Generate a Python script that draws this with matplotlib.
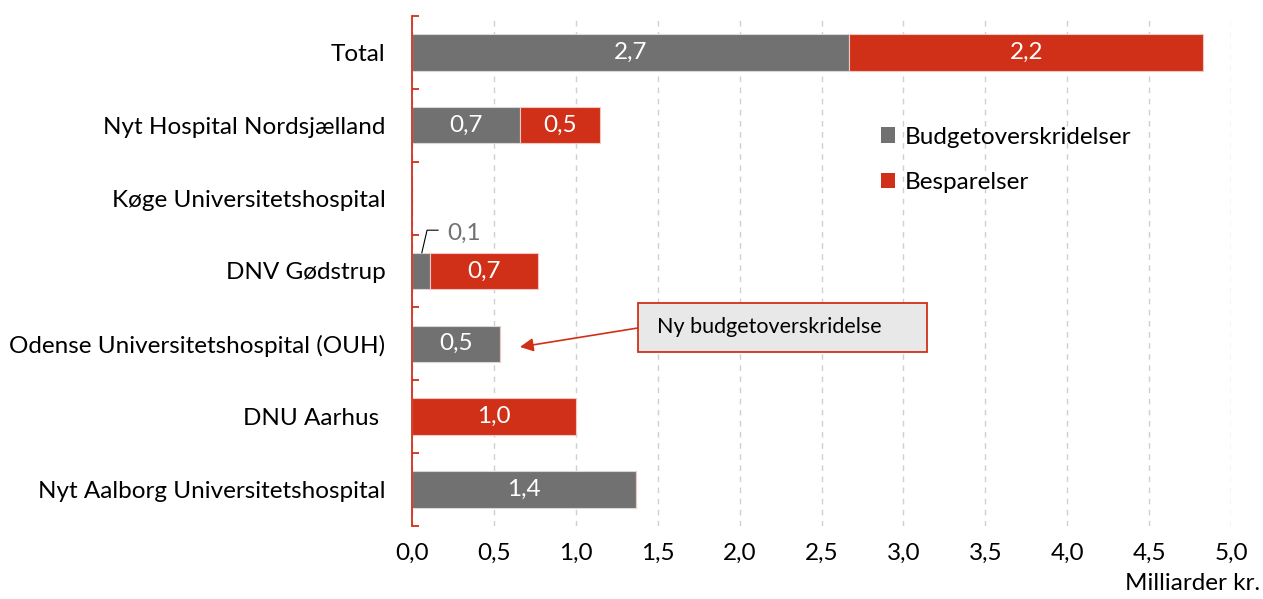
import matplotlib.pyplot as plt
from matplotlib.patches import Patch, Rectangle
import numpy as np

plt.rcParams['font.family'] = ['Lato', 'DejaVu Sans']

# data
categories = ["Total", "Nyt Hospital Nordsjælland", "Køge Universitetshospital",
              "DNV Gødstrup", "Odense Universitetshospital (OUH)", "DNU Aarhus ",
              "Nyt Aalborg Universitetshospital"]
overruns = [2.67, 0.66, 0.0, 0.11, 0.54, 0.0, 1.37]
savings = [2.16, 0.49, 0.0, 0.66, 0.0, 1.0, 0.0]
xticks = [0, 0.5, 1.0, 1.5, 2.0, 2.5, 3.0, 3.5, 4.0, 4.5, 5.0]

gray = "#717171"
red = "#D13018"
fs = 17.5

def fmt(v):
    return f"{v:.1f}".replace(".", ",")

fig = plt.figure(figsize=(12.63, 5.99), dpi=100)
ax = fig.add_axes([0.3262, 0.1219, 0.6485, 0.8514])

y = np.arange(len(categories))
ax.barh(y, overruns, height=0.5, color=gray, edgecolor="#d8d8d8", linewidth=0.8, zorder=3)
ax.barh(y, savings, left=overruns, height=0.5, color=red, edgecolor="#f0c8c0", linewidth=0.8, zorder=3)

# labels inside bars
for i in range(len(categories)):
    if overruns[i] > 0.3:
        ax.text(overruns[i] / 2, y[i], fmt(overruns[i]), color="white", ha="center", va="center",
                fontsize=fs, zorder=4)
    if savings[i] > 0:
        ax.text(overruns[i] + savings[i] / 2, y[i], fmt(savings[i]), color="white", ha="center",
                va="center", fontsize=fs, zorder=4)

# small label for DNV Gødstrup
i = 3
ax.plot([0.06, 0.092, 0.159], [y[i] - 0.25, y[i] - 0.56, y[i] - 0.56], color="black", lw=0.8, zorder=4)
ax.text(0.214, y[i] - 0.52, fmt(overruns[i]), color=gray, ha="left", va="center", fontsize=fs)

ax.set_xlim(0, 5.0)
ax.set_ylim(len(categories) - 0.5, -0.5)
ax.set_xticks(xticks)
ax.set_xticklabels([fmt(v) for v in xticks], fontsize=fs)
ax.tick_params(axis="x", length=0, pad=12)
ax.set_yticks(y)
ax.set_yticklabels(categories, fontsize=fs)
ax.tick_params(axis="y", which="major", length=0, pad=19)
ax.set_yticks(np.arange(-0.5, len(categories)), minor=True)
ax.tick_params(axis="y", which="minor", direction="in", length=5, color=red, width=1.3)

for s in ["top", "right", "bottom"]:
    ax.spines[s].set_visible(False)
ax.spines["left"].set_color(red)
ax.spines["left"].set_linewidth(1.3)
ax.spines["left"].set_zorder(5)

ax.grid(axis="x", color="#d0d0d0", linestyle=(0, (4, 4)), linewidth=1.0, zorder=0)

ax.text(1.035, -0.112, "Milliarder kr.", transform=ax.transAxes, ha="right", va="center", fontsize=fs)

# legend
handles = [Patch(facecolor=gray, label="Budgetoverskridelser"),
           Patch(facecolor=red, label="Besparelser")]
fig.legend(handles=handles, loc="upper left", bbox_to_anchor=(0.68, 0.825), frameon=False,
           fontsize=fs, handlelength=0.6, handleheight=0.6, handletextpad=0.4, labelspacing=1.0)

# annotation
ax.add_patch(Rectangle((1.38, 3.44), 1.764, 0.672, facecolor="#E8E8E8", edgecolor=red, lw=1.3, zorder=5))
ax.text(1.496, 3.775, "Ny budgetoverskridelse", fontsize=15.5, va="center", ha="left", zorder=6)
ax.annotate("", xy=(0.659, 4.043), xytext=(1.38, 3.782),
            arrowprops=dict(arrowstyle="-|>", color=red, lw=1.2, mutation_scale=20,
                            shrinkA=0, shrinkB=0), zorder=4)

fig.savefig("out.png", dpi=100)
